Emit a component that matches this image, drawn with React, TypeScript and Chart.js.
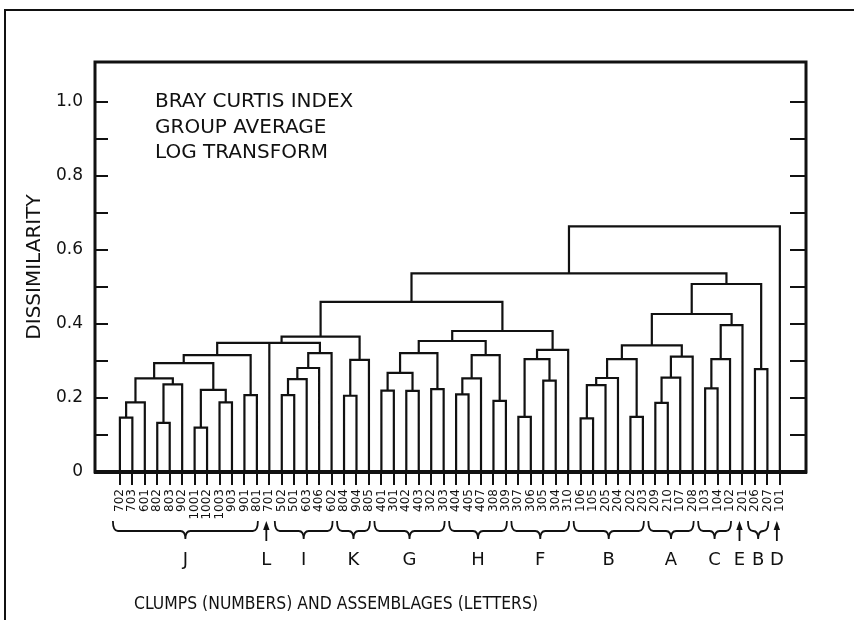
import React, { useEffect, useRef } from 'react';
import { Chart, registerables } from 'chart.js';

Chart.register(...registerables);

// Leaf (clump) labels in dendrogram order
const leafLabels = [
  '702', '703', '601', '802', '803', '902', '1001', '1002', '1003', '903', '901', '801',
  '701',
  '502', '501', '603', '406', '602',
  '804', '904', '805',
  '401', '301', '402', '403', '302', '303',
  '404', '405', '407', '308', '309',
  '307', '306', '305', '304', '310',
  '106', '105', '205', '204', '202', '203',
  '209', '210', '107', '208',
  '103', '104', '102',
  '201',
  '206', '207',
  '101',
];

// Linkage: merge k joins node mergeLeft[k] and mergeRight[k] (leaves are 0..53, merge k creates node 54+k)
const mergeLeft = [
  0, 54, 3, 56, 55, 6, 8, 59, 58, 10, 62, 64,
  13, 66, 67, 68, 65, 18, 71, 70,
  21, 23, 74, 25, 76, 27, 79, 30, 80, 78,
  32, 34, 84, 86, 83, 73,
  37, 90, 91, 41, 92, 43, 95, 96, 94,
  47, 99, 100, 98, 51, 102, 89, 105,
];
const mergeRight = [
  1, 2, 4, 5, 57, 7, 9, 60, 61, 11, 63, 12,
  14, 15, 16, 17, 69, 19, 20, 72,
  22, 24, 75, 26, 77, 28, 29, 31, 81, 82,
  33, 35, 85, 36, 87, 88,
  38, 39, 40, 42, 93, 44, 45, 46, 97,
  48, 49, 50, 101, 52, 103, 104, 53,
];
const mergeHeight = [
  0.147, 0.188, 0.133, 0.237, 0.253, 0.120, 0.188, 0.222, 0.294, 0.208, 0.316, 0.349,
  0.208, 0.251, 0.281, 0.321, 0.349, 0.206, 0.303, 0.366,
  0.220, 0.219, 0.268, 0.224, 0.321, 0.210, 0.253, 0.192, 0.316, 0.354,
  0.149, 0.247, 0.305, 0.330, 0.381, 0.460,
  0.145, 0.235, 0.254, 0.149, 0.305, 0.187, 0.255, 0.312, 0.342,
  0.226, 0.305, 0.397, 0.427, 0.278, 0.508, 0.537, 0.664,
];

// Assemblages (letters) with first/last leaf index
const groupLetters = ['J', 'L', 'I', 'K', 'G', 'H', 'F', 'B', 'A', 'C', 'E', 'B', 'D'];
const groupFirst = [0, 12, 13, 18, 21, 27, 32, 37, 43, 47, 50, 51, 53];
const groupLast = [11, 12, 17, 20, 26, 31, 36, 42, 46, 49, 50, 52, 53];

const annotationLines = ['BRAY CURTIS INDEX', 'GROUP AVERAGE', 'LOG TRANSFORM'];
const yTitle = 'DISSIMILARITY';
const xTitle = 'CLUMPS (NUMBERS) AND ASSEMBLAGES (LETTERS)';

const FONT = '"DejaVu Sans", "Liberation Sans", sans-serif';
const INK = '#111';

function buildSegments() {
  const nodeX: number[] = leafLabels.map((_, i) => i);
  const nodeH: number[] = leafLabels.map(() => 0);
  const pts: { x: number; y: number | null }[] = [];
  mergeLeft.forEach((a, k) => {
    const b = mergeRight[k];
    const h = mergeHeight[k];
    pts.push(
      { x: nodeX[a], y: nodeH[a] },
      { x: nodeX[a], y: h },
      { x: nodeX[b], y: h },
      { x: nodeX[b], y: nodeH[b] },
      { x: nodeX[b], y: null },
    );
    nodeX.push((nodeX[a] + nodeX[b]) / 2);
    nodeH.push(h);
  });
  return pts;
}

const decorPlugin = {
  id: 'decor',
  afterDraw(chart: any) {
    const { ctx, chartArea: ca, scales } = chart;
    const xs = scales.x;
    const ys = scales.y;
    ctx.save();
    ctx.strokeStyle = INK;
    ctx.fillStyle = INK;

    // outer figure border (top & left)
    ctx.lineWidth = 2;
    ctx.beginPath();
    ctx.moveTo(5, 620);
    ctx.lineTo(5, 10);
    ctx.lineTo(854, 10);
    ctx.stroke();

    // plot frame
    ctx.lineWidth = 3;
    ctx.strokeRect(ca.left, ca.top, ca.right - ca.left, ca.bottom - ca.top);
    ctx.lineWidth = 4;
    ctx.beginPath();
    ctx.moveTo(ca.left - 1, ys.getPixelForValue(0));
    ctx.lineTo(ca.right + 1, ys.getPixelForValue(0));
    ctx.stroke();

    // inward tick marks on both sides
    ctx.lineWidth = 2;
    ys.ticks.forEach((t: any) => {
      if (t.value <= 0.001 || t.value > 1.001) return;
      const y = ys.getPixelForValue(t.value);
      ctx.beginPath();
      ctx.moveTo(ca.left, y);
      ctx.lineTo(ca.left + 13, y);
      ctx.moveTo(ca.right, y);
      ctx.lineTo(ca.right - 16, y);
      ctx.stroke();
    });

    // annotation
    ctx.font = `20px ${FONT}`;
    ctx.textAlign = 'left';
    ctx.textBaseline = 'alphabetic';
    annotationLines.forEach((s, i) => {
      ctx.fillText(s, 155, 107 + i * 25.5);
    });

    // y title
    ctx.save();
    ctx.translate(40, (ca.top + ca.bottom) / 2);
    ctx.rotate(-Math.PI / 2);
    ctx.textAlign = 'center';
    ctx.font = `20px ${FONT}`;
    ctx.fillText(yTitle, 0, 0);
    ctx.restore();

    // braces, arrows and letters
    const yTop = 521, yMid = 531, yTip = 539;
    ctx.lineWidth = 1.8;
    ctx.font = `18px ${FONT}`;
    ctx.textAlign = 'center';
    groupLetters.forEach((letter, g) => {
      const f = groupFirst[g];
      const l = groupLast[g];
      let cx: number;
      if (f === l) {
        const x = xs.getPixelForValue(f) - 3;
        cx = x;
        ctx.beginPath();
        ctx.moveTo(x, 541);
        ctx.lineTo(x, 528);
        ctx.stroke();
        ctx.beginPath();
        ctx.moveTo(x, 521);
        ctx.lineTo(x - 3.2, 530);
        ctx.lineTo(x + 3.2, 530);
        ctx.closePath();
        ctx.fill();
      } else {
        const x1 = xs.getPixelForValue(f) - 7;
        const x2 = xs.getPixelForValue(l) + 1;
        cx = (x1 + x2) / 2;
        const r = 5;
        ctx.beginPath();
        ctx.moveTo(x1, yTop);
        ctx.quadraticCurveTo(x1, yMid, x1 + r, yMid);
        ctx.lineTo(cx - r, yMid);
        ctx.quadraticCurveTo(cx, yMid, cx, yTip);
        ctx.quadraticCurveTo(cx, yMid, cx + r, yMid);
        ctx.lineTo(x2 - r, yMid);
        ctx.quadraticCurveTo(x2, yMid, x2, yTop);
        ctx.stroke();
      }
      ctx.fillText(letter, cx, 565);
    });

    // x caption
    ctx.font = `18px ${FONT}`;
    ctx.textAlign = 'center';
    ctx.fillText(xTitle, 336, 609, 404);

    ctx.restore();
  },
};

export default function App() {
  const canvasRef = useRef<HTMLCanvasElement | null>(null);

  useEffect(() => {
    if (!canvasRef.current) return;
    const chart = new Chart(canvasRef.current, {
      type: 'scatter',
      data: {
        datasets: [
          {
            data: buildSegments() as any,
            showLine: true,
            spanGaps: false,
            borderColor: INK,
            borderWidth: 2.2,
            pointRadius: 0,
            pointHoverRadius: 0,
            tension: 0,
            borderJoinStyle: 'miter',
          } as any,
        ],
      },
      options: {
        animation: false,
        responsive: false,
        events: [],
        layout: { padding: { left: 0, right: 48, top: 62, bottom: 0 } },
        plugins: {
          legend: { display: false },
          tooltip: { enabled: false },
          title: { display: false },
        },
        scales: {
          x: {
            type: 'linear',
            min: -2,
            max: 55.1,
            afterBuildTicks: (scale: any) => {
              scale.ticks = leafLabels.map((_, i) => ({ value: i }));
            },
            afterFit: (scale: any) => {
              scale.height = 148;
            },
            grid: {
              display: true,
              drawOnChartArea: false,
              drawTicks: true,
              tickLength: 13,
              color: INK,
              lineWidth: 2,
            },
            border: { display: false },
            ticks: {
              autoSkip: false,
              minRotation: 90,
              maxRotation: 90,
              padding: 4,
              color: INK,
              font: { family: FONT, size: 12 },
              callback: (v: any) => {
                const i = Math.round(Number(v));
                return Math.abs(Number(v) - i) < 1e-6 && i >= 0 && i < leafLabels.length ? leafLabels[i] : '';
              },
            },
          },
          y: {
            type: 'linear',
            min: 0,
            max: 1.108,
            afterFit: (scale: any) => {
              scale.width = 95;
            },
            grid: { display: false, drawTicks: false },
            border: { display: false },
            ticks: {
              stepSize: 0.1,
              padding: 12,
              color: INK,
              font: { family: FONT, size: 17 },
              callback: (v: any) => {
                const t = Number(v) * 10;
                const r = Math.round(t);
                if (Math.abs(t - r) > 1e-6 || r % 2 !== 0 || r > 10) return '';
                return r === 0 ? '0' : (r / 10).toFixed(1);
              },
            },
          },
        },
      },
      plugins: [decorPlugin],
    });
    return () => chart.destroy();
  }, []);

  return (
    <div
      style={{
        position: 'absolute',
        left: 0,
        top: 0,
        width: 854,
        height: 620,
        background: '#fff',
        overflow: 'hidden',
      }}
    >
      <canvas ref={canvasRef} width={854} height={620} style={{ display: 'block' }} />
    </div>
  );
}
